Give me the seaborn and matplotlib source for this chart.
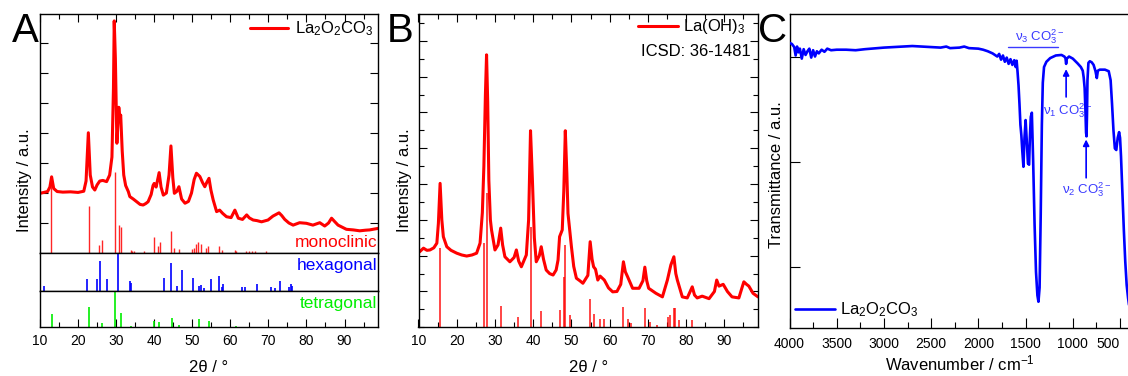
import numpy as np
import pandas as pd
import matplotlib
matplotlib.use('Agg')
import matplotlib.pyplot as plt
import seaborn as sns
from matplotlib.ticker import MultipleLocator, NullFormatter, FixedLocator

# ---------------- data ----------------
# Panel A: La2O2CO3 XRD pattern (2theta, intensity a.u.)
a_tt = [10.0, 11.0, 12.0, 12.6, 13.05, 13.6, 14.5, 16.0, 18.0, 20.0, 21.5, 22.1, 22.7, 23.2, 23.8,
        24.4, 25.0, 25.7, 26.5, 27.5, 28.3, 28.9, 29.3, 29.5, 29.8, 30.2, 30.7, 31.0, 31.2, 31.6,
        32.0, 32.5, 33.2, 33.6, 34.5, 35.4, 36.3, 37.1, 37.8, 38.4, 39.2, 39.7, 40.0, 40.5, 41.3,
        41.8, 42.4, 43.2, 43.9, 44.4, 44.9, 45.3, 45.9, 46.5, 47.2, 48.1, 49.0, 49.8, 50.5, 51.1,
        51.6, 52.0, 52.7, 53.3, 53.8, 54.4, 54.9, 55.5, 56.4, 57.2, 58.0, 59.0, 60.2, 61.2, 62.1,
        63.2, 64.3, 65.0, 66.0, 67.0, 68.2, 69.9, 71.2, 72.8, 73.5, 74.3, 75.4, 76.5, 78.2, 80.0,
        81.7, 83.5, 84.8, 85.8, 86.6, 87.4, 88.3, 90.5, 92.3, 94.0, 95.5, 96.6, 98.8]
a_int = [1.99, 2.02, 2.05, 2.2, 2.54, 2.15, 2.05, 2.03, 2.04, 2.02, 2.06, 2.4, 4.01, 2.6, 2.2,
         2.1, 2.27, 2.4, 2.42, 2.38, 2.6, 3.2, 5.5, 7.74, 6.5, 3.66, 4.86, 4.5, 4.6, 3.4,
         2.6, 2.25, 2.05, 1.88, 1.8, 1.71, 1.62, 1.6, 1.65, 1.71, 1.95, 2.25, 2.32, 2.2, 2.68,
         2.2, 1.93, 2.0, 2.6, 3.57, 2.5, 1.99, 2.05, 2.21, 1.8, 1.66, 1.72, 2.0, 2.45, 2.66,
         2.6, 2.55, 2.35, 2.21, 2.35, 2.49, 2.1, 1.77, 1.38, 1.43, 1.32, 1.21, 1.18, 1.43, 1.16,
         1.12, 1.27, 1.17, 1.1, 1.08, 1.04, 1.1, 1.23, 1.34, 1.25, 1.12, 1.0, 0.93, 1.01, 0.99,
         0.93, 1.01, 0.9, 1.0, 1.16, 1.05, 0.93, 0.79, 0.77, 0.74, 0.76, 0.77, 0.82]

# reference sticks, panel A
mono_pos = [13.0, 22.8, 25.5, 26.4, 29.6, 30.8, 31.2, 33.9, 34.3, 34.8, 37.3, 39.9, 41.0, 41.5,
            44.4, 45.1, 46.5, 50.0, 50.5, 51.0, 51.5, 52.3, 53.5, 54.2, 57.0, 57.8, 61.1, 61.6,
            64.2, 65.0, 65.8, 66.6, 69.5]
mono_int = [2.4, 1.56, 0.26, 0.42, 2.7, 0.92, 0.87, 0.11, 0.08, 0.08, 0.06, 0.53, 0.22, 0.37,
            0.73, 0.18, 0.13, 0.13, 0.18, 0.31, 0.36, 0.29, 0.18, 0.24, 0.24, 0.09, 0.09, 0.07,
            0.06, 0.06, 0.06, 0.06, 0.06]
hex_pos = [11.05, 22.3, 25.1, 25.7, 27.7, 30.4, 33.6, 33.9, 42.5, 44.4, 45.9, 47.4, 50.2, 51.7,
           52.2, 53.0, 54.8, 56.9, 57.9, 58.2, 63.2, 63.8, 67.0, 70.8, 71.7, 73.0, 75.4, 76.0, 76.3]
hex_int = [12, 30, 30, 79, 30, 100, 26, 21, 35, 74, 12, 55, 35, 12,
           15, 6, 30, 39, 9, 18, 11, 9, 17, 11, 6, 26, 9, 17, 12]
tet_pos = [13.07, 22.9, 26.4, 29.6, 31.2, 33.9, 40.0, 41.3, 44.6, 46.6, 51.8, 54.4, 61.6]
tet_int = [36, 55, 11, 100, 40, 4, 18, 15, 25, 6, 22, 18, 4]

# Panel B: La(OH)3 XRD pattern
b_tt = [10.0, 10.3, 11.3, 12.2, 13.0, 14.0, 14.8, 15.2, 15.65, 16.1, 16.5, 17.4, 18.5, 20.0, 21.3,
        22.6, 24.0, 25.2, 26.1, 26.7, 27.1, 27.5, 27.8, 28.1, 28.4, 28.8, 29.1, 30.0, 30.8, 31.5,
        32.0, 32.6, 33.9, 35.0, 35.6, 36.2, 36.9, 38.2, 38.8, 39.3, 39.8, 40.3, 40.8, 41.6, 42.1,
        42.7, 43.4, 44.3, 45.2, 46.0, 46.5, 46.9, 47.6, 48.0, 48.4, 48.8, 49.1, 50.0, 50.6, 51.3,
        52.2, 53.0, 54.3, 54.9, 55.4, 55.8, 56.3, 56.9, 57.5, 58.6, 59.7, 60.8, 61.9, 62.9, 63.6,
        64.1, 64.7, 66.0, 67.7, 68.7, 69.2, 69.7, 70.2, 72.1, 73.8, 75.1, 76.0, 76.8, 77.3, 77.7,
        79.0, 80.3, 81.6, 82.2, 82.9, 84.2, 86.0, 87.4, 88.0, 88.6, 89.7, 90.8, 92.0, 93.8, 94.6,
        95.1, 95.8, 96.4, 97.5, 98.8]
b_int = [2.1, 2.11, 2.21, 2.15, 2.16, 2.22, 2.35, 2.9, 4.02, 3.0, 2.53, 2.25, 2.15, 2.07, 2.02,
         1.99, 2.02, 2.07, 2.35, 3.2, 4.5, 6.5, 7.61, 6.3, 4.1, 3.0, 2.72, 2.16, 2.3, 2.77,
         2.3, 1.97, 1.83, 1.95, 2.16, 1.85, 1.69, 2.02, 3.0, 5.49, 4.1, 2.5, 1.83, 2.0, 2.25,
         1.9, 1.6, 1.5, 1.46, 1.6, 1.88, 2.53, 2.72, 3.8, 5.49, 4.3, 3.18, 2.25, 1.7, 1.37,
         1.3, 1.23, 1.45, 2.39, 1.9, 1.69, 1.62, 1.32, 1.43, 1.32, 1.1, 0.99, 1.0, 1.2, 1.83,
         1.55, 1.41, 1.09, 1.09, 1.3, 1.68, 1.3, 1.09, 0.95, 0.85, 1.32, 1.74, 1.97, 1.5, 1.32,
         0.85, 0.82, 1.13, 0.9, 0.82, 0.87, 0.8, 1.0, 1.32, 1.15, 1.2, 1.0, 0.85, 0.82, 1.1,
         1.27, 1.2, 1.15, 0.95, 0.85]
icsd_pos = [15.6, 27.2, 27.8, 31.5, 35.9, 39.35, 42.1, 46.9, 48.0, 48.4, 49.7, 54.9, 56.0, 57.5,
            58.6, 63.6, 64.8, 65.6, 69.2, 70.5, 72.5, 75.2, 75.9, 76.7, 77.1, 78.2, 81.6]
icsd_int = [2.21, 2.35, 3.74, 0.6, 0.3, 2.81, 0.46, 0.48, 1.41, 2.3, 0.34, 0.79, 0.37, 0.22,
            0.22, 0.56, 0.22, 0.11, 0.53, 0.16, 0.07, 0.3, 0.34, 0.53, 0.53, 0.2, 0.2]

# Panel C: FTIR of La2O2CO3 (wavenumber, transmittance a.u.)
ir_wn = [4000, 3975, 3950, 3935, 3920, 3905, 3890, 3870, 3850, 3830, 3810, 3790, 3770, 3750, 3730,
         3710, 3690, 3660, 3630, 3600, 3560, 3500, 3400, 3300, 3200, 3000, 2800, 2700, 2600, 2400,
         2340, 2300, 2200, 2150, 2100, 2000, 1950, 1900, 1850, 1800, 1780, 1760, 1740, 1720, 1700,
         1680, 1660, 1640, 1620, 1605, 1595, 1585, 1575, 1565, 1555, 1545, 1535, 1523, 1512, 1500,
         1488, 1475, 1463, 1455, 1445, 1434, 1420, 1405, 1390, 1375, 1364, 1352, 1340, 1328, 1318,
         1305, 1280, 1240, 1180, 1120, 1090, 1078, 1071, 1064, 1040, 1000, 950, 915, 895, 885,
         875, 867, 860, 855, 850, 845, 835, 820, 800, 780, 760, 746, 735, 715, 660,
         620, 600, 585, 570, 555, 540, 525, 510, 500, 490, 475, 460, 445, 430, 415, 400]
ir_t = [62.6, 62.4, 61.8, 60.2, 61.9, 60.8, 61.5, 59.6, 61.4, 60.3, 61.0, 61.5, 59.8, 61.2, 60.0,
        61.0, 60.6, 61.3, 60.9, 61.5, 61.2, 61.3, 61.3, 61.2, 61.4, 61.7, 61.9, 62.0, 61.9, 61.7,
        61.9, 61.6, 61.7, 61.9, 61.6, 61.5, 61.3, 61.0, 60.6, 60.0, 60.5, 59.4, 60.2, 59.0, 59.8,
        58.6, 59.5, 58.4, 59.3, 58.0, 59.2, 57.0, 54.5, 51.0, 47.0, 45.0, 42.0, 39.0, 44.5, 47.9,
        44.0, 39.6, 39.4, 44.5, 48.5, 49.3, 40.0, 28.0, 19.0, 14.5, 13.3, 16.0, 30.0, 47.0, 55.0,
        58.0, 59.0, 59.7, 60.2, 60.3, 60.0, 59.7, 58.6, 59.6, 60.0, 59.6, 58.7, 58.0, 57.3, 56.0,
        54.0, 50.0, 45.5, 44.8, 49.0, 55.5, 58.8, 59.1, 58.9, 58.4, 57.2, 55.9, 57.3, 57.5, 57.5,
        57.2, 55.5, 51.0, 46.0, 42.5, 42.2, 44.5, 45.6, 44.5, 41.0, 34.0, 27.0, 21.0, 16.5, 14.0, 12.0]

x_ticks_xrd = [10, 20, 30, 40, 50, 60, 70, 80, 90]
x_ticks_ir = [4000, 3500, 3000, 2500, 2000, 1500, 1000, 500]

# ---------------- style ----------------
sns.set_theme(style='ticks')
plt.rcParams['font.family'] = ['Liberation Sans', 'DejaVu Sans']
plt.rcParams.update({
    'mathtext.fontset': 'custom',
    'mathtext.rm': 'Liberation Sans',
    'mathtext.it': 'Liberation Sans:italic',
    'mathtext.bf': 'Liberation Sans:bold',
    'axes.edgecolor': 'black', 'text.color': 'black', 'axes.labelcolor': 'black',
    'xtick.color': 'black', 'ytick.color': 'black',
    'axes.linewidth': 1.0,
})

RED = '#ff0000'
BLUE = '#0000ff'
GREEN = '#00ee00'
ANN = '#3a3aff'

W, H = 1128, 376
fig = plt.figure(figsize=(W / 100, H / 100), dpi=100)


def px_axes(left, top, right, bottom):
    return fig.add_axes([left / W, 1 - bottom / H, (right - left) / W, (bottom - top) / H])


def base_ticks(ax):
    ax.tick_params(which='major', direction='in', length=6, width=0.8, labelsize=10)
    ax.tick_params(which='minor', direction='in', length=3.5, width=0.8)
    for s in ax.spines.values():
        s.set_linewidth(1.0)
        s.set_color('black')
    ax.set_xlabel('')
    ax.set_ylabel('')


# ---------------- Panel A ----------------
axA = px_axes(40, 14, 378, 253)
axAh = px_axes(40, 253, 378, 290.7)
axAt = px_axes(40, 290.7, 378, 327.3)

sns.lineplot(x=a_tt, y=a_int, ax=axA, color=RED, lw=2.2, sort=False, estimator=None,
             label='La$_2$O$_2$CO$_3$', legend=False)
axA.vlines(mono_pos, 0, mono_int, color=RED, lw=1.0, alpha=0.85)
axA.set_xlim(10, 98.8)
axA.set_ylim(0, 7.97)
base_ticks(axA)
axA.xaxis.set_major_locator(FixedLocator(x_ticks_xrd))
axA.xaxis.set_minor_locator(MultipleLocator(5))
axA.tick_params(which='both', top=True, bottom=False, left=True, right=True,
                labelbottom=False, labelleft=False)
axA.yaxis.set_major_locator(FixedLocator([1, 2, 3, 4, 5, 6, 7]))
axA.text(0.997, 0.012, 'monoclinic', color=RED, fontsize=12.5, ha='right', va='bottom',
         transform=axA.transAxes)
axA.legend(loc='center right', bbox_to_anchor=((374 - 40) / 338, (253 - 29) / 239),
           frameon=False, fontsize=12, handlelength=2.3, handletextpad=0.42, borderpad=0,
           borderaxespad=0)

axAh.vlines(hex_pos, 0, hex_int, color=BLUE, lw=1.2)
axAh.set_xlim(10, 98.8)
axAh.set_ylim(0, 100)
base_ticks(axAh)
axAh.tick_params(which='both', left=False, right=False, top=False, bottom=False,
                 labelleft=False, labelbottom=False)
axAh.text(0.997, 0.86, 'hexagonal', color=BLUE, fontsize=12.5, ha='right', va='top',
          transform=axAh.transAxes)

axAt.vlines(tet_pos, 0, tet_int, color=GREEN, lw=1.2)
axAt.set_xlim(10, 98.8)
axAt.set_ylim(0, 100)
base_ticks(axAt)
axAt.xaxis.set_major_locator(FixedLocator(x_ticks_xrd))
axAt.xaxis.set_minor_locator(MultipleLocator(5))
axAt.tick_params(which='both', left=False, right=False, top=False, bottom=True,
                 labelleft=False, labelbottom=True)
axAt.tick_params(axis='x', which='major', pad=4.5)
axAt.text(0.997, 0.86, 'tetragonal', color=GREEN, fontsize=12.5, ha='right', va='top',
          transform=axAt.transAxes)

# ---------------- Panel B ----------------
axB = px_axes(418.5, 14, 758, 327.3)
sns.lineplot(x=b_tt, y=b_int, ax=axB, color=RED, lw=2.2, sort=False, estimator=None,
             label='La(OH)$_3$', legend=False)
axB.vlines(icsd_pos, 0, icsd_int, color=RED, lw=1.2, alpha=0.85)
axB.set_xlim(10, 98.8)
axB.set_ylim(0, 8.75)
base_ticks(axB)
axB.xaxis.set_major_locator(FixedLocator(x_ticks_xrd))
axB.xaxis.set_minor_locator(MultipleLocator(5))
axB.yaxis.set_major_locator(FixedLocator([1, 2, 3, 4, 5, 6, 7, 8]))
axB.yaxis.set_minor_locator(MultipleLocator(0.5))
axB.tick_params(which='both', top=True, bottom=True, left=True, right=True,
                labelleft=False, labelbottom=True)
axB.tick_params(axis='x', which='major', pad=4.5)
axB.legend(loc='center right', bbox_to_anchor=((746 - 418.5) / 339.5, (327.3 - 27) / 313.3),
           frameon=False, fontsize=12, handlelength=2.4, handletextpad=0.3, borderpad=0,
           borderaxespad=0)
axB.text((751 - 418.5) / 339.5, (327.3 - 52) / 313.3, 'ICSD: 36-1481', fontsize=12,
         ha='right', va='center', transform=axB.transAxes)

# ---------------- Panel C ----------------
axC = px_axes(789.5, 14, 1129.5, 328)
sns.lineplot(x=ir_wn, y=ir_t, ax=axC, color=BLUE, lw=1.9, sort=False, estimator=None,
             label='La$_2$O$_2$CO$_3$', legend=False, zorder=3)
axC.set_xlim(4000, 400)
axC.set_ylim(8.3, 68.1)
base_ticks(axC)
axC.spines['right'].set_visible(False)
axC.xaxis.set_major_locator(FixedLocator(x_ticks_ir))
axC.xaxis.set_minor_locator(MultipleLocator(250))
axC.yaxis.set_major_locator(FixedLocator([20, 40, 60]))
axC.tick_params(which='major', length=7)
axC.tick_params(which='minor', length=4)
axC.tick_params(which='both', top=False, right=False, left=True, bottom=True,
                labelleft=False, labelbottom=True)
axC.yaxis.set_minor_locator(FixedLocator([]))
axC.tick_params(axis='x', which='major', pad=6.5)
axC.legend(loc='center left', bbox_to_anchor=((795 - 789.5) / 340, (328 - 310) / 314),
           frameon=False, fontsize=12, handlelength=2.4, handletextpad=0.3, borderpad=0,
           borderaxespad=0)
fig.canvas.draw()
# last tick label sits at the figure edge: anchor it to its right side so it stays visible
last_lbl = [t for t in axC.get_xticklabels() if t.get_text() == '500']
for t in last_lbl:
    t.set_horizontalalignment('right')
    t.set_x(430)

# annotations
axC.text(1611, 63.05, '\u03bd$_3$ CO$_3^{2-}$', color=ANN, fontsize=9.5, ha='left', va='baseline')
axC.plot([1682, 1153], [61.9, 61.9], color=ANN, lw=1.0)
axC.text(1313, 48.9, '\u03bd$_1$ CO$_3^{2-}$', color=ANN, fontsize=9.5, ha='left', va='baseline',
         zorder=1)
axC.annotate('', xy=(1071, 57.6), xytext=(1071, 52.3),
             arrowprops=dict(arrowstyle='-|>', color=BLUE, lw=1.2, mutation_scale=9,
                             shrinkA=0, shrinkB=0))
axC.text(1116, 34.0, '\u03bd$_2$ CO$_3^{2-}$', color=ANN, fontsize=9.5, ha='left', va='baseline')
axC.annotate('', xy=(859, 44.2), xytext=(859, 36.9),
             arrowprops=dict(arrowstyle='-|>', color=BLUE, lw=1.2, mutation_scale=9,
                             shrinkA=0, shrinkB=0))

# ---------------- figure texts ----------------
fig.text(12 / W, 1 - 42 / H, 'A', fontsize=29, ha='left', va='baseline')
fig.text(387 / W, 1 - 42 / H, 'B', fontsize=29, ha='left', va='baseline')
fig.text(758 / W, 1 - 42 / H, 'C', fontsize=29, ha='left', va='baseline')

fig.text(25 / W, 1 - 180 / H, 'Intensity / a.u.', fontsize=12, rotation=90, ha='center', va='center')
fig.text(405 / W, 1 - 180 / H, 'Intensity / a.u.', fontsize=12, rotation=90, ha='center', va='center')
fig.text(776.5 / W, 1 - 175 / H, 'Transmittance / a.u.', fontsize=12, rotation=90,
         ha='center', va='center')

fig.text(209 / W, 1 - 368 / H, '2\u03b8 / \u00b0', fontsize=12, ha='center', va='center')
fig.text(589 / W, 1 - 368 / H, '2\u03b8 / \u00b0', fontsize=12, ha='center', va='center')
fig.text(960 / W, 1 - 363 / H, 'Wavenumber / cm$^{-1}$', fontsize=12, ha='center', va='center')

fig.savefig('out.png', dpi=100)
